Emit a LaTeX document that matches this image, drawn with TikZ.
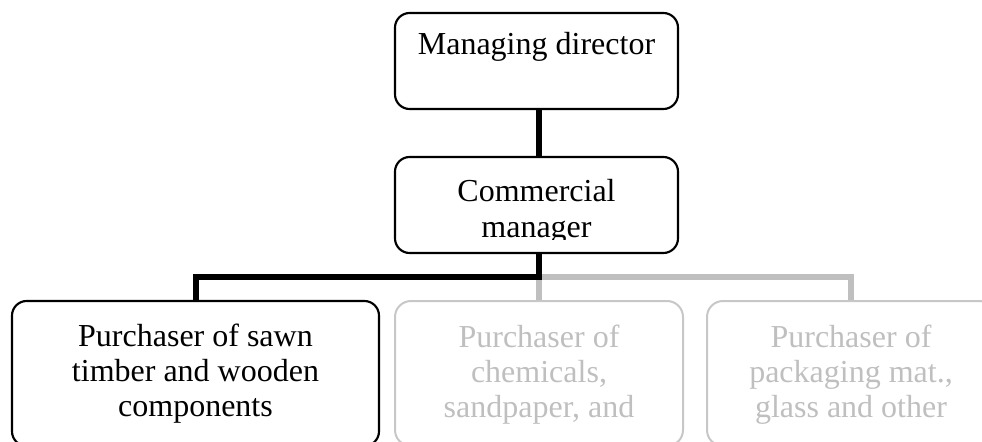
\documentclass[tikz,border=0pt]{standalone}
\usepackage{fontspec}
\setmainfont{Liberation Serif}
\newdimen\pxu
\pxu=0.75pt
\tikzset{
  orgbox/.style={draw=black, line width=1.6pt, rounded corners=11pt, inner sep=0pt},
  dimbox/.style={draw=black!22, line width=1.5pt, rounded corners=12pt, inner sep=0pt},
  orgtext/.style={anchor=base, inner sep=0pt, font=\fontsize{24}{26.3}\selectfont},
  link/.style={line width=4.5pt, line join=miter, draw=black},
  dimlink/.style={line width=4.5pt, line join=miter, draw=black!25},
}
\begin{document}
\begin{tikzpicture}[x=0.75pt, y=-0.75pt]
\useasboundingbox (0,0) rectangle (982,442);

% boxes
\node[orgbox, minimum width=283\pxu, minimum height=96\pxu] (md) at (536.5,61) {};
\node[orgbox, minimum width=283\pxu, minimum height=96\pxu] (cm) at (536.5,205) {};
\node[orgbox, minimum width=367\pxu, minimum height=145\pxu] (b1) at (195.5,373.5) {};
\node[dimbox, minimum width=288\pxu, minimum height=145\pxu] (b2) at (539,373.5) {};
\node[dimbox, minimum width=288\pxu, minimum height=145\pxu] (b3) at (851,373.5) {};

% connectors
\coordinate (bus) at (539,277);
\draw[dimlink] (bus) -| (b3.north);
\draw[dimlink] (bus) -- (bus |- b2.north);
\draw[link] (bus |- md.south) -- (bus |- cm.north);
\draw[link] (bus |- cm.south) -- (bus) -| (b1.north);

% texts, clipped to the inner area of each box
\begin{scope}
  \clip (395,13) rectangle (678,96);
  \node[orgtext] (tmd) at (536.5,55) {\parbox[t]{260\pxu}{\centering Managing director}};
\end{scope}
\begin{scope}
  \clip (395,157) rectangle (678,240);
  \node[orgtext] (tcm) at (536.5,202) {\parbox[t]{260\pxu}{\centering Commercial\\manager}};
\end{scope}
\begin{scope}
  \clip (12,301) rectangle (379,426);
  \node[orgtext] (tb1) at (195.5,346) {\parbox[t]{340\pxu}{\centering Purchaser of sawn\\timber and wooden\\components}};
\end{scope}
\begin{scope}
  \clip (395,301) rectangle (683,426);
  \node[orgtext, text=black!25] (tb2) at (539,347) {\parbox[t]{270\pxu}{\centering Purchaser of\\chemicals,\\sandpaper, and}};
\end{scope}
\begin{scope}
  \clip (707,301) rectangle (995,426);
  \node[orgtext, text=black!25] (tb3) at (851,347) {\parbox[t]{270\pxu}{\centering Purchaser of\\packaging mat.,\\glass and other}};
\end{scope}
\end{tikzpicture}
\end{document}
